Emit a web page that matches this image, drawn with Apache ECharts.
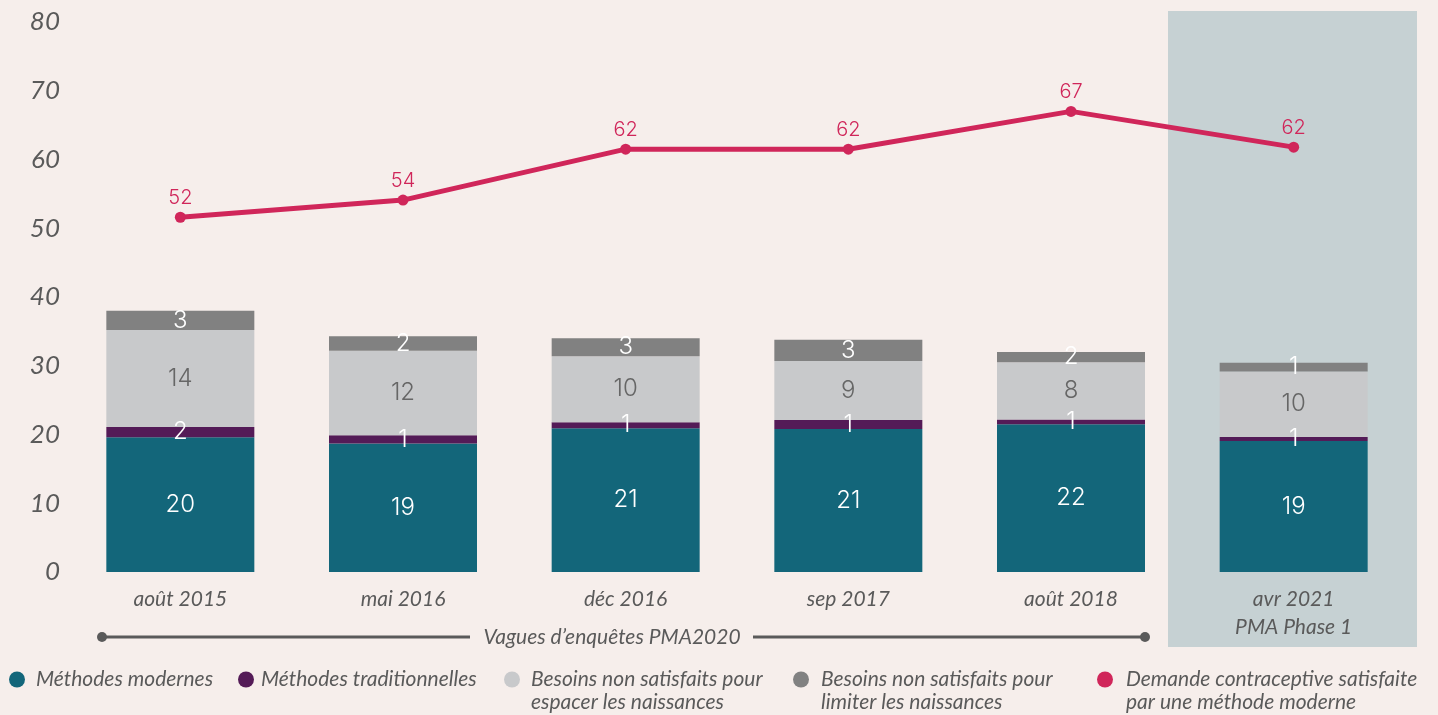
<!DOCTYPE html>
<html>
<head>
<meta charset="utf-8">
<script src="https://cdn.jsdelivr.net/npm/echarts@6/dist/echarts.min.js"></script>
<style>
html,body{margin:0;padding:0;background:#f6eeeb;}
#c{width:1438px;height:715px;}
</style>
</head>
<body>
<div id="c"></div>
<script>
const categories = ['août 2015', 'mai 2016', 'déc 2016', 'sep 2017', 'août 2018', 'avr 2021\nPMA Phase 1'];
const modernes = [19.6, 18.7, 20.9, 20.8, 21.5, 19.05];
const traditionnelles = [1.5, 1.2, 0.9, 1.3, 0.7, 0.6];
const espacer = [14.1, 12.3, 9.6, 8.6, 8.3, 9.5];
const limiter = [2.8, 2.1, 2.6, 3.1, 1.5, 1.3];
const demande = [51.6, 54.1, 61.5, 61.5, 67.0, 61.8];
const yTicks = [0, 10, 20, 30, 40, 50, 60, 70, 80];
const seriesNames = [
  'Méthodes modernes',
  'Méthodes traditionnelles',
  'Besoins non satisfaits pour\nespacer les naissances',
  'Besoins non satisfaits pour\nlimiter les naissances',
  'Demande contraceptive satisfaite\npar une méthode moderne'
];
const bracketLabel = 'Vagues d\u2019enquêtes PMA2020';

const colors = ['#13667a', '#541b57', '#c8c9cb', '#818181', '#d0265a'];
const labelFont = 'Inter, "Noto Sans", sans-serif';
const axisFont = 'Lato, sans-serif';
const textGrey = '#5a5a5a';

function barSeries(i, data, labelColor) {
  return {
    name: seriesNames[i], type: 'bar', stack: 'total', data: data,
    barWidth: 148, itemStyle: { color: colors[i] },
    label: {
      show: true, position: 'inside', color: labelColor,
      fontFamily: labelFont, fontSize: 24, fontWeight: 300,
      formatter: p => String(Math.round(p.value))
    },
    emphasis: { disabled: true }
  };
}

const legendLeft = [9, 238, 504, 793, 1097];
const legendPad = [6, 2, 6, 7, 8];
const legends = seriesNames.map((n, i) => {
  const twoLines = n.indexOf('\n') >= 0;
  return {
    data: [n], left: legendLeft[i], top: twoLines ? 645 : 668,
    padding: 0, icon: 'circle', itemWidth: 16, itemHeight: 16,
    selectedMode: false,
    formatter: name => (twoLines ? '\n' + name : name),
    textStyle: {
      fontFamily: axisFont, fontStyle: 'italic', fontSize: 21, color: textGrey,
      lineHeight: 23, padding: [0, 0, 0, legendPad[i]]
    }
  };
});

const chart = echarts.init(document.getElementById('c'));
chart.setOption({
  backgroundColor: '#f6eeeb',
  animation: false,
  grid: { left: 69, right: 33, top: 22, bottom: 143 },
  legend: legends,
  xAxis: {
    type: 'category', data: categories,
    axisLine: { show: false }, axisTick: { show: false },
    axisLabel: {
      fontFamily: axisFont, fontStyle: 'italic', fontSize: 21, color: textGrey,
      lineHeight: 28, margin: 13, interval: 0
    }
  },
  yAxis: {
    type: 'value', min: yTicks[0], max: yTicks[yTicks.length - 1], interval: 10,
    splitLine: { show: false }, axisLine: { show: false }, axisTick: { show: false },
    axisLabel: {
      fontFamily: axisFont, fontStyle: 'italic', fontSize: 26, color: textGrey, margin: 9
    }
  },
  graphic: [
    { type: 'rect', z: -10, shape: { x: 1168, y: 11, width: 249, height: 636 }, style: { fill: '#c6d1d3' }, silent: true },
    { type: 'line', shape: { x1: 102, y1: 637, x2: 470, y2: 637 }, style: { stroke: '#5a5a5a', lineWidth: 3 } },
    { type: 'line', shape: { x1: 753, y1: 637, x2: 1145, y2: 637 }, style: { stroke: '#5a5a5a', lineWidth: 3 } },
    { type: 'circle', shape: { cx: 102, cy: 637, r: 5 }, style: { fill: '#5a5a5a' } },
    { type: 'circle', shape: { cx: 1145, cy: 637, r: 5 }, style: { fill: '#5a5a5a' } },
    { type: 'text', x: 612, y: 637, style: { text: bracketLabel, fontFamily: axisFont, fontStyle: 'italic', fontSize: 21, fill: textGrey, align: 'center', verticalAlign: 'middle' } }
  ],
  series: [
    barSeries(0, modernes, '#ffffff'),
    barSeries(1, traditionnelles, '#ffffff'),
    barSeries(2, espacer, '#666666'),
    barSeries(3, limiter, '#ffffff'),
    {
      name: seriesNames[4], type: 'line', data: demande,
      symbol: 'circle', symbolSize: 11,
      lineStyle: { color: colors[4], width: 5 }, itemStyle: { color: colors[4] },
      label: {
        show: true, position: 'top', distance: 4, color: colors[4],
        fontFamily: labelFont, fontSize: 20, fontWeight: 300,
        formatter: p => String(Math.round(p.value))
      },
      emphasis: { disabled: true }, z: 5
    }
  ]
});
</script>
</body>
</html>
